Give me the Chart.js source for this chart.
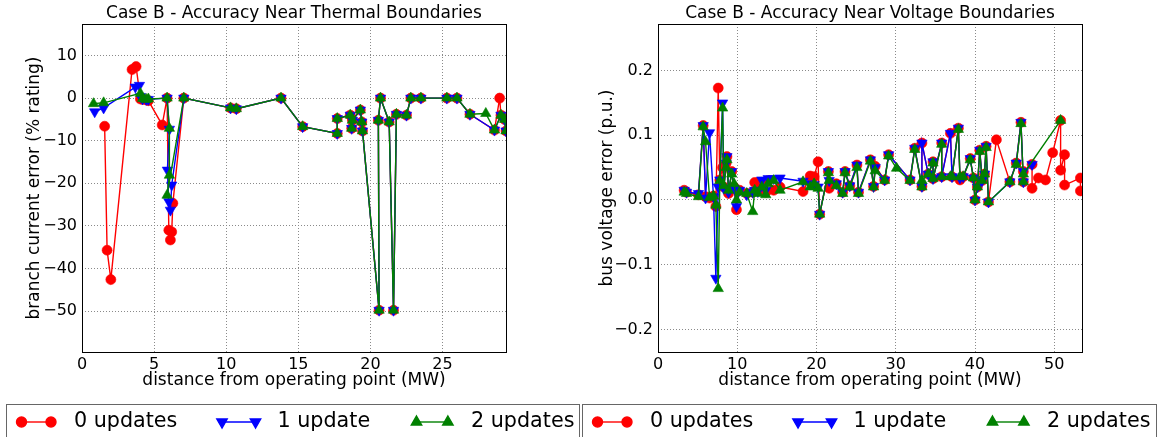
<!DOCTYPE html>
<html>
<head>
<meta charset="utf-8">
<title>Case B - Accuracy Near Boundaries</title>
<script src="https://cdn.jsdelivr.net/npm/chart.js@4.4.0/dist/chart.umd.min.js"></script>
<style>
	html, body { margin: 0; padding: 0; background: #fff; }
	#wrap { position: relative; width: 1159px; height: 437px; overflow: hidden; }
	#wrap canvas { position: absolute; top: 0; }
	#thermalChart { left: 0; }
	#voltageChart { left: 580px; }
</style>
</head>
<body>
<div id="wrap">
	<canvas id="thermalChart" width="580" height="437"></canvas>
	<canvas id="voltageChart" width="579" height="437"></canvas>
</div>
<script>
// Series shared by both panels
const seriesLabels = ['0 updates', '1 update', '2 updates'];

// Thermal panel: distance (MW) and branch current error (% rating), null = no sample
const thermalDist = [
	0.8, 0.88, 1.5, 1.57, 1.74, 2.0, 3.47, 3.7, 3.75, 3.98,
	4.05, 4.2, 4.45, 4.6, 5.56, 5.9, 6.06, 5.92, 6.06, 5.9,
	6.02, 6.13, 6.22, 6.3, 7.06, 10.3, 10.7, 13.8, 15.3, 17.7,
	17.7, 18.6, 18.7, 18.75, 19.3, 19.4, 19.45, 20.6, 20.55, 20.7,
	21.3, 21.6, 21.8, 22.5, 22.8, 23.5, 25.3, 26.0, 26.9, 28.0,
	28.6, 28.96, 29.05, 29.3, 29.4
];
const thermalErr0 = [
	null, null, null, -6.6, -35.7, -42.6, 6.7, null, 7.4, null,
	-0.2, -0.3, -0.4, -0.6, -6.3, 0, null, null, null, null,
	-31.0, -33.3, -31.4, -24.7, 0, -2.3, -2.5, 0, -6.7, -8.3,
	-4.8, -4.0, -7.1, -5.2, -2.8, -5.6, -7.7, -49.8, -5.2, 0,
	-5.6, -49.8, -3.8, -4.0, 0, 0, 0, 0, -3.8, null,
	-7.5, 0, -4.0, -5.0, -7.7
];
const thermalErr1 = [
	null, -3.2, -2.3, null, null, null, null, 2.6, null, 3.0,
	0.4, -0.2, -0.3, -0.3, null, 0, -7.3, -16.9, null, null,
	-24.3, -26.3, -20.4, null, 0, -2.3, -2.5, 0, -6.7, -8.3,
	-4.8, -4.0, -7.1, -5.2, -2.8, -5.6, -7.7, -49.8, -5.2, 0,
	-5.6, -49.8, -3.8, -4.0, 0, 0, 0, 0, -3.8, null,
	-7.5, null, -4.0, -5.0, -7.7
];
const thermalErr2 = [
	-1.3, null, -1.1, null, null, null, null, null, null, null,
	1.1, -0.1, -0.3, -0.2, null, 0, -7.1, null, -18.1, -22.8,
	null, null, null, null, 0, -2.3, -2.5, 0, -6.7, -8.3,
	-4.8, -4.0, -7.1, -5.2, -2.8, -5.6, -7.7, -49.8, -5.2, 0,
	-5.6, -49.8, -3.8, -4.0, 0, 0, 0, 0, -3.8, -3.6,
	-7.5, null, -4.0, -5.0, -7.7
];
const thermalXTicks = [0, 5, 10, 15, 20, 25];
const thermalYTicks = [10, 0, -10, -20, -30, -40, -50];

// Voltage panel: distance (MW) and bus voltage error (p.u.), null = no sample
const voltageDist = [
	3.3, 3.6, 5.1, 5.7, 6.0, 6.5, 7.0, 7.3, 7.6, 7.8,
	8.15, 8.3, 8.6, 8.7, 8.9, 9.3, 9.6, 9.9, 10.3, 11.2,
	11.95, 12.2, 12.6, 13.1, 13.6, 13.9, 14.6, 15.4, 18.3, 19.2,
	19.7, 20.2, 20.4, 21.5, 21.6, 22.5, 23.3, 23.6, 24.2, 25.1,
	25.3, 26.8, 27.2, 27.4, 28.6, 29.1, 30.1, 31.8, 32.4, 33.3,
	33.3, 34.1, 34.7, 34.7, 35.8, 35.8, 36.9, 37.1, 37.9, 38.1,
	38.5, 39.4, 39.8, 40.0, 40.3, 40.6, 40.9, 41.2, 41.4, 41.7,
	42.7, 44.4, 45.2, 45.8, 46.1, 46.1, 47.2, 47.2, 48.0, 48.9,
	49.8, 50.8, 50.8, 51.3, 51.3, 53.3, 53.3
];
const voltageErr0 = [
	0.015, 0.012, 0.008, 0.115, 0.005, 0.003, 0.006, -0.010, 0.173, 0.031,
	0.050, 0.020, 0.057, 0.067, 0.010, 0.044, 0.020, -0.015, 0.015, 0.010,
	0.012, 0.027, 0.027, 0.020, 0.012, 0.030, 0.015, 0.020, 0.013, 0.037,
	0.036, 0.059, -0.022, 0.044, 0.018, 0.025, 0.012, 0.044, 0.022, 0.054,
	0.012, 0.062, 0.021, 0.052, 0.031, 0.070, null, 0.031, 0.080, 0.021,
	0.088, 0.040, 0.059, 0.033, 0.088, 0.036, 0.103, 0.036, 0.111, 0.031,
	0.036, 0.064, 0.034, 0.000, 0.020, 0.077, 0.030, 0.040, 0.083, -0.003,
	0.093, 0.028, 0.057, 0.120, 0.028, 0.044, 0.055, 0.018, 0.034, 0.031,
	0.073, 0.123, 0.046, 0.070, 0.023, 0.034, 0.014
];
const voltageErr1 = [
	0.015, 0.012, 0.010, 0.115, 0.003, 0.104, 0.005, -0.121, 0.020, 0.031,
	0.150, 0.018, 0.057, 0.067, 0.012, 0.044, 0.018, -0.010, 0.015, 0.008,
	0.012, 0.015, 0.013, 0.031, 0.015, 0.033, 0.033, 0.034, 0.029, 0.025,
	0.024, 0.020, -0.022, 0.044, 0.030, 0.025, 0.012, 0.044, 0.022, 0.054,
	0.012, 0.062, 0.021, 0.050, 0.031, 0.070, null, 0.031, 0.080, 0.021,
	0.088, 0.040, 0.059, 0.033, 0.088, 0.036, 0.103, 0.036, 0.111, 0.034,
	0.036, 0.064, 0.034, 0.000, 0.020, 0.077, 0.030, 0.040, 0.083, -0.003,
	null, 0.028, 0.057, 0.120, 0.028, 0.044, 0.055, null, null, null,
	null, null, null, null, null, null, null
];
const voltageErr2 = [
	0.012, 0.010, 0.005, 0.113, 0.090, 0.004, 0.006, -0.008, -0.137, 0.030,
	0.142, 0.022, 0.050, 0.062, 0.015, 0.040, 0.025, 0.000, 0.012, 0.010,
	-0.018, 0.015, 0.010, 0.020, 0.008, 0.025, 0.030, 0.015, 0.028, 0.020,
	0.025, 0.018, -0.022, 0.042, 0.030, 0.022, 0.010, 0.042, 0.020, 0.050,
	0.010, 0.060, 0.020, 0.045, 0.030, 0.068, 0.049, 0.030, 0.078, 0.020,
	0.030, 0.040, 0.057, 0.033, 0.086, 0.036, 0.036, 0.036, 0.109, 0.036,
	0.036, 0.062, 0.034, 0.000, 0.020, 0.075, 0.030, 0.040, 0.081, -0.003,
	null, 0.028, 0.055, 0.118, 0.028, 0.040, null, null, null, null,
	null, 0.123, null, null, null, null, null
];
const voltageXTicks = [0, 10, 20, 30, 40, 50];
const voltageYTicks = [0.2, 0.1, 0.0, -0.1, -0.2];

// Look and layout constants
const CONFIG = {
	FONT: 'DejaVu Sans',
	COLORS: {
		text: '#000',
		grid: '#8a8a8a',
		frame: '#000',
		legendEdge: '#666'
	},
	// one style per series, drawn back to front: red, blue, green
	SERIES: [
		{ color: '#ff0000', pointStyle: 'circle', rotation: 0, radius: 5, order: 3 },
		{ color: '#0000ff', pointStyle: 'triangle', rotation: 180, radius: 6, order: 2 },
		{ color: '#008000', pointStyle: 'triangle', rotation: 0, radius: 6, order: 1 }
	],
	PLOT_TOP: 24,
	PLOT_BOTTOM: 352,
	X_AXIS_HEIGHT: 40,
	LEGEND_TOP: 404.5,
	LEGEND_MID: 422,
	LEGEND_FONT: 20.7,
	// legend sample line ends and label start, from the box's left edge
	LEGEND_ITEMS: [
		{ x1: 15, x2: 44.5, text: 67.4 },
		{ x1: 215.5, x2: 249, text: 271 },
		{ x1: 410, x2: 441.4, text: 464.5 }
	]
};

/**
 * Format a tick value with a proper minus sign
 * @param {number} v - Tick value
 * @param {number} decimals - Digits after the point
 */
function formatTick(v, decimals) {
	const s = Math.abs(v).toFixed(decimals);
	return v < -1e-9 ? '\u2212' + s : s;
}

/**
 * Turn a distance column plus one error column into scatter points
 */
function toPoints(dist, err) {
	return dist
		.map((x, i) => ({ x, y: err[i] }))
		.filter(p => p.y !== null);
}

function buildDatasets(dist, errCols) {
	return errCols.map((err, i) => {
		const s = CONFIG.SERIES[i];
		return {
			label: seriesLabels[i],
			data: toPoints(dist, err),
			showLine: true,
			order: s.order,
			borderColor: s.color,
			backgroundColor: s.color,
			borderWidth: 1.4,
			pointStyle: s.pointStyle,
			pointRotation: s.rotation,
			pointRadius: s.radius,
			pointBorderWidth: 0.6,
			pointBorderColor: s.color,
			pointBackgroundColor: s.color,
			clip: 0
		};
	});
}

// Closed frame round the plot area, drawn over the data like axes spines
const framePlugin = {
	id: 'frame',
	afterDatasetsDraw(chart) {
		const { ctx, chartArea: a } = chart;
		ctx.save();
		ctx.strokeStyle = CONFIG.COLORS.frame;
		ctx.lineWidth = 1;
		ctx.strokeRect(Math.round(a.left) + 0.5, Math.round(a.top) + 0.5,
			Math.round(a.right - a.left), Math.round(a.bottom - a.top));
		ctx.restore();
	}
};

/**
 * Legend strip under a panel: line sample with a marker at each end
 * @param {number} boxLeft - Left edge of the legend box in canvas px
 * @param {number} boxRight - Right edge of the legend box in canvas px
 */
function makeLegendPlugin(boxLeft, boxRight) {
	return {
		id: 'lineLegend',
		afterDraw(chart) {
			const { ctx } = chart;
			const top = CONFIG.LEGEND_TOP;
			const midY = CONFIG.LEGEND_MID;
			ctx.save();
			ctx.fillStyle = '#fff';
			ctx.fillRect(boxLeft, top, boxRight - boxLeft, 60);
			ctx.strokeStyle = CONFIG.COLORS.legendEdge;
			ctx.lineWidth = 1;
			ctx.strokeRect(boxLeft, top, boxRight - boxLeft, 60);

			CONFIG.LEGEND_ITEMS.forEach((item, i) => {
				const s = CONFIG.SERIES[i];
				const x1 = boxLeft + item.x1;
				const x2 = boxLeft + item.x2;
				ctx.strokeStyle = s.color;
				ctx.fillStyle = s.color;
				ctx.lineWidth = 1.4;
				ctx.beginPath();
				ctx.moveTo(x1, midY);
				ctx.lineTo(x2, midY);
				ctx.stroke();
				const marker = { pointStyle: s.pointStyle, rotation: s.rotation, radius: s.radius, borderWidth: 0.6 };
				Chart.helpers.drawPoint(ctx, marker, x1, midY);
				Chart.helpers.drawPoint(ctx, marker, x2, midY);

				ctx.fillStyle = CONFIG.COLORS.text;
				ctx.font = `${CONFIG.LEGEND_FONT}px '${CONFIG.FONT}'`;
				ctx.textBaseline = 'middle';
				ctx.textAlign = 'left';
				ctx.fillText(seriesLabels[i], boxLeft + item.text, midY);
			});
			ctx.restore();
		}
	};
}

function axisFont(size) {
	return { family: CONFIG.FONT, size, lineHeight: 1.2 };
}

/**
 * Create one panel's chart configuration
 */
function createPanelConfig(p) {
	const fixedTicks = values => scale => {
		scale.ticks = values.map(value => ({ value }));
	};
	const gridCommon = {
		color: CONFIG.COLORS.grid,
		lineWidth: 1,
		drawTicks: false
	};
	const borderCommon = { display: false, dash: [1, 2] };

	return {
		type: 'scatter',
		data: { datasets: buildDatasets(p.dist, p.errs) },
		options: {
			animation: false,
			responsive: false,
			devicePixelRatio: 1,
			events: [],
			layout: {
				padding: {
					left: 0,
					right: p.rightPad,
					top: 0,
					bottom: 437 - CONFIG.PLOT_BOTTOM - CONFIG.X_AXIS_HEIGHT
				}
			},
			scales: {
				x: {
					type: 'linear',
					min: p.xMin,
					max: p.xMax,
					afterBuildTicks: fixedTicks(p.xTicks),
					afterFit: scale => { scale.height = CONFIG.X_AXIS_HEIGHT; },
					grid: gridCommon,
					border: borderCommon,
					ticks: {
						color: CONFIG.COLORS.text,
						font: axisFont(16),
						padding: 3,
						autoSkip: false,
						maxRotation: 0,
						callback: v => formatTick(v, 0)
					},
					title: {
						display: true,
						text: 'distance from operating point (MW)',
						color: CONFIG.COLORS.text,
						font: axisFont(17),
						padding: { top: 0, bottom: 1 }
					}
				},
				y: {
					type: 'linear',
					min: p.yMin,
					max: p.yMax,
					afterBuildTicks: fixedTicks(p.yTicks),
					afterFit: scale => { scale.width = p.yAxisWidth; },
					grid: gridCommon,
					border: borderCommon,
					ticks: {
						color: CONFIG.COLORS.text,
						font: axisFont(16),
						padding: 5,
						autoSkip: false,
						callback: v => formatTick(v, p.decimals)
					},
					title: {
						display: true,
						text: p.yTitle,
						color: CONFIG.COLORS.text,
						font: axisFont(17),
						padding: { top: p.yTitleOffset, bottom: 0 }
					}
				}
			},
			plugins: {
				legend: { display: false },
				tooltip: { enabled: false },
				title: {
					display: true,
					fullSize: false,
					text: p.title,
					color: CONFIG.COLORS.text,
					font: { family: CONFIG.FONT, size: 17, weight: 'normal', lineHeight: 1 },
					padding: { top: 5.5, bottom: CONFIG.PLOT_TOP - 17 - 5.5 }
				}
			}
		},
		plugins: [framePlugin, makeLegendPlugin(p.legendLeft, p.legendRight)]
	};
}

new Chart(document.getElementById('thermalChart'), createPanelConfig({
	title: 'Case B - Accuracy Near Thermal Boundaries',
	yTitle: 'branch current error (% rating)',
	dist: thermalDist,
	errs: [thermalErr0, thermalErr1, thermalErr2],
	xMin: 0, xMax: 29.4,
	yMin: -59.6, yMax: 17.4,
	xTicks: thermalXTicks,
	yTicks: thermalYTicks,
	decimals: 0,
	yAxisWidth: 82,
	yTitleOffset: 24.8,
	rightPad: 74,
	legendLeft: 6.5,
	legendRight: 579.5
}));

new Chart(document.getElementById('voltageChart'), createPanelConfig({
	title: 'Case B - Accuracy Near Voltage Boundaries',
	yTitle: 'bus voltage error (p.u.)',
	dist: voltageDist,
	errs: [voltageErr0, voltageErr1, voltageErr2],
	xMin: 0, xMax: 53.5,
	yMin: -0.235, yMax: 0.272,
	xTicks: voltageXTicks,
	yTicks: voltageYTicks,
	decimals: 1,
	yAxisWidth: 78,
	yTitleOffset: 17,
	rightPad: 77,
	legendLeft: 2.5,
	legendRight: 576.5
}));
</script>
</body>
</html>
